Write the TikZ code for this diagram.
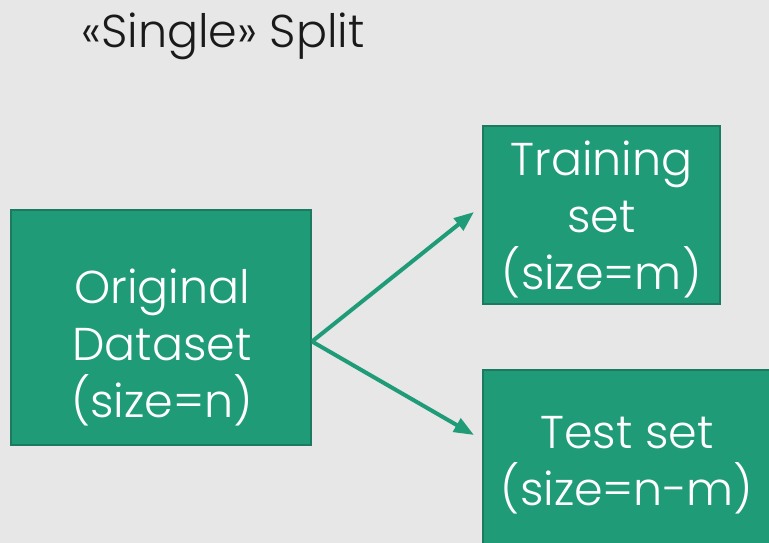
\documentclass[tikz,border=0pt]{standalone}
\usepackage{fontspec}
\setmainfont{Poppins}[UprightFont=* Light]
\usetikzlibrary{arrows.meta}
\definecolor{bgray}{HTML}{E7E7E7}
\definecolor{boxfill}{HTML}{1F9B78}
\definecolor{boxedge}{HTML}{1B7A5F}
\definecolor{titleink}{HTML}{1A1A1A}
\tikzset{
  setbox/.style={draw=boxedge, line width=2pt, fill=boxfill, inner sep=0pt},
  settext/.style={text=white, align=center, inner sep=0pt,
    font=\fontsize{46}{57}\selectfont},
  splitarrow/.style={draw=boxfill, line width=4pt,
    -{Triangle[length=20pt,width=15pt]}}
}
\begin{document}
\begin{tikzpicture}[x=1pt,y=-1pt]
  \fill[bgray] (0,0) rectangle (769,543);
  \useasboundingbox (0,0) rectangle (769,543);
  \clip (0,0) rectangle (769,543);
  \node[anchor=base west, text=titleink, font=\fontsize{46}{52}\selectfont, inner sep=0pt]
    (title) at (81,48) {«Single» Split};
  % boxes
  \node[setbox, minimum width=300pt, minimum height=235pt] (orig) at (161,327.5) {};
  \node[setbox, minimum width=237pt, minimum height=178pt] (train) at (601.5,214.5) {};
  \node[setbox, minimum width=292pt, minimum height=176pt] (test) at (629,458) {};
  % box texts
  \node[settext] (origtext) at ([xshift=1pt,yshift=-20pt]orig.center) {Original\\Dataset\\(size=n)};
  \node[settext] (traintext) at ([yshift=-5pt]train.center) {Training\\set\\(size=m)};
  \node[settext] (testtext) at ([xshift=-2pt,yshift=-7pt]test.center) {Test set\\(size=n-m)};
  % arrows
  \coordinate (fork) at ([yshift=-14pt]orig.east);
  \coordinate (trainin) at ([xshift=-8pt,yshift=2.5pt]train.west);
  \coordinate (testin) at ([xshift=-8pt,yshift=23pt]test.west);
  \draw[splitarrow] (fork) -- (trainin);
  \draw[splitarrow] (fork) -- (testin);
\end{tikzpicture}
\end{document}
